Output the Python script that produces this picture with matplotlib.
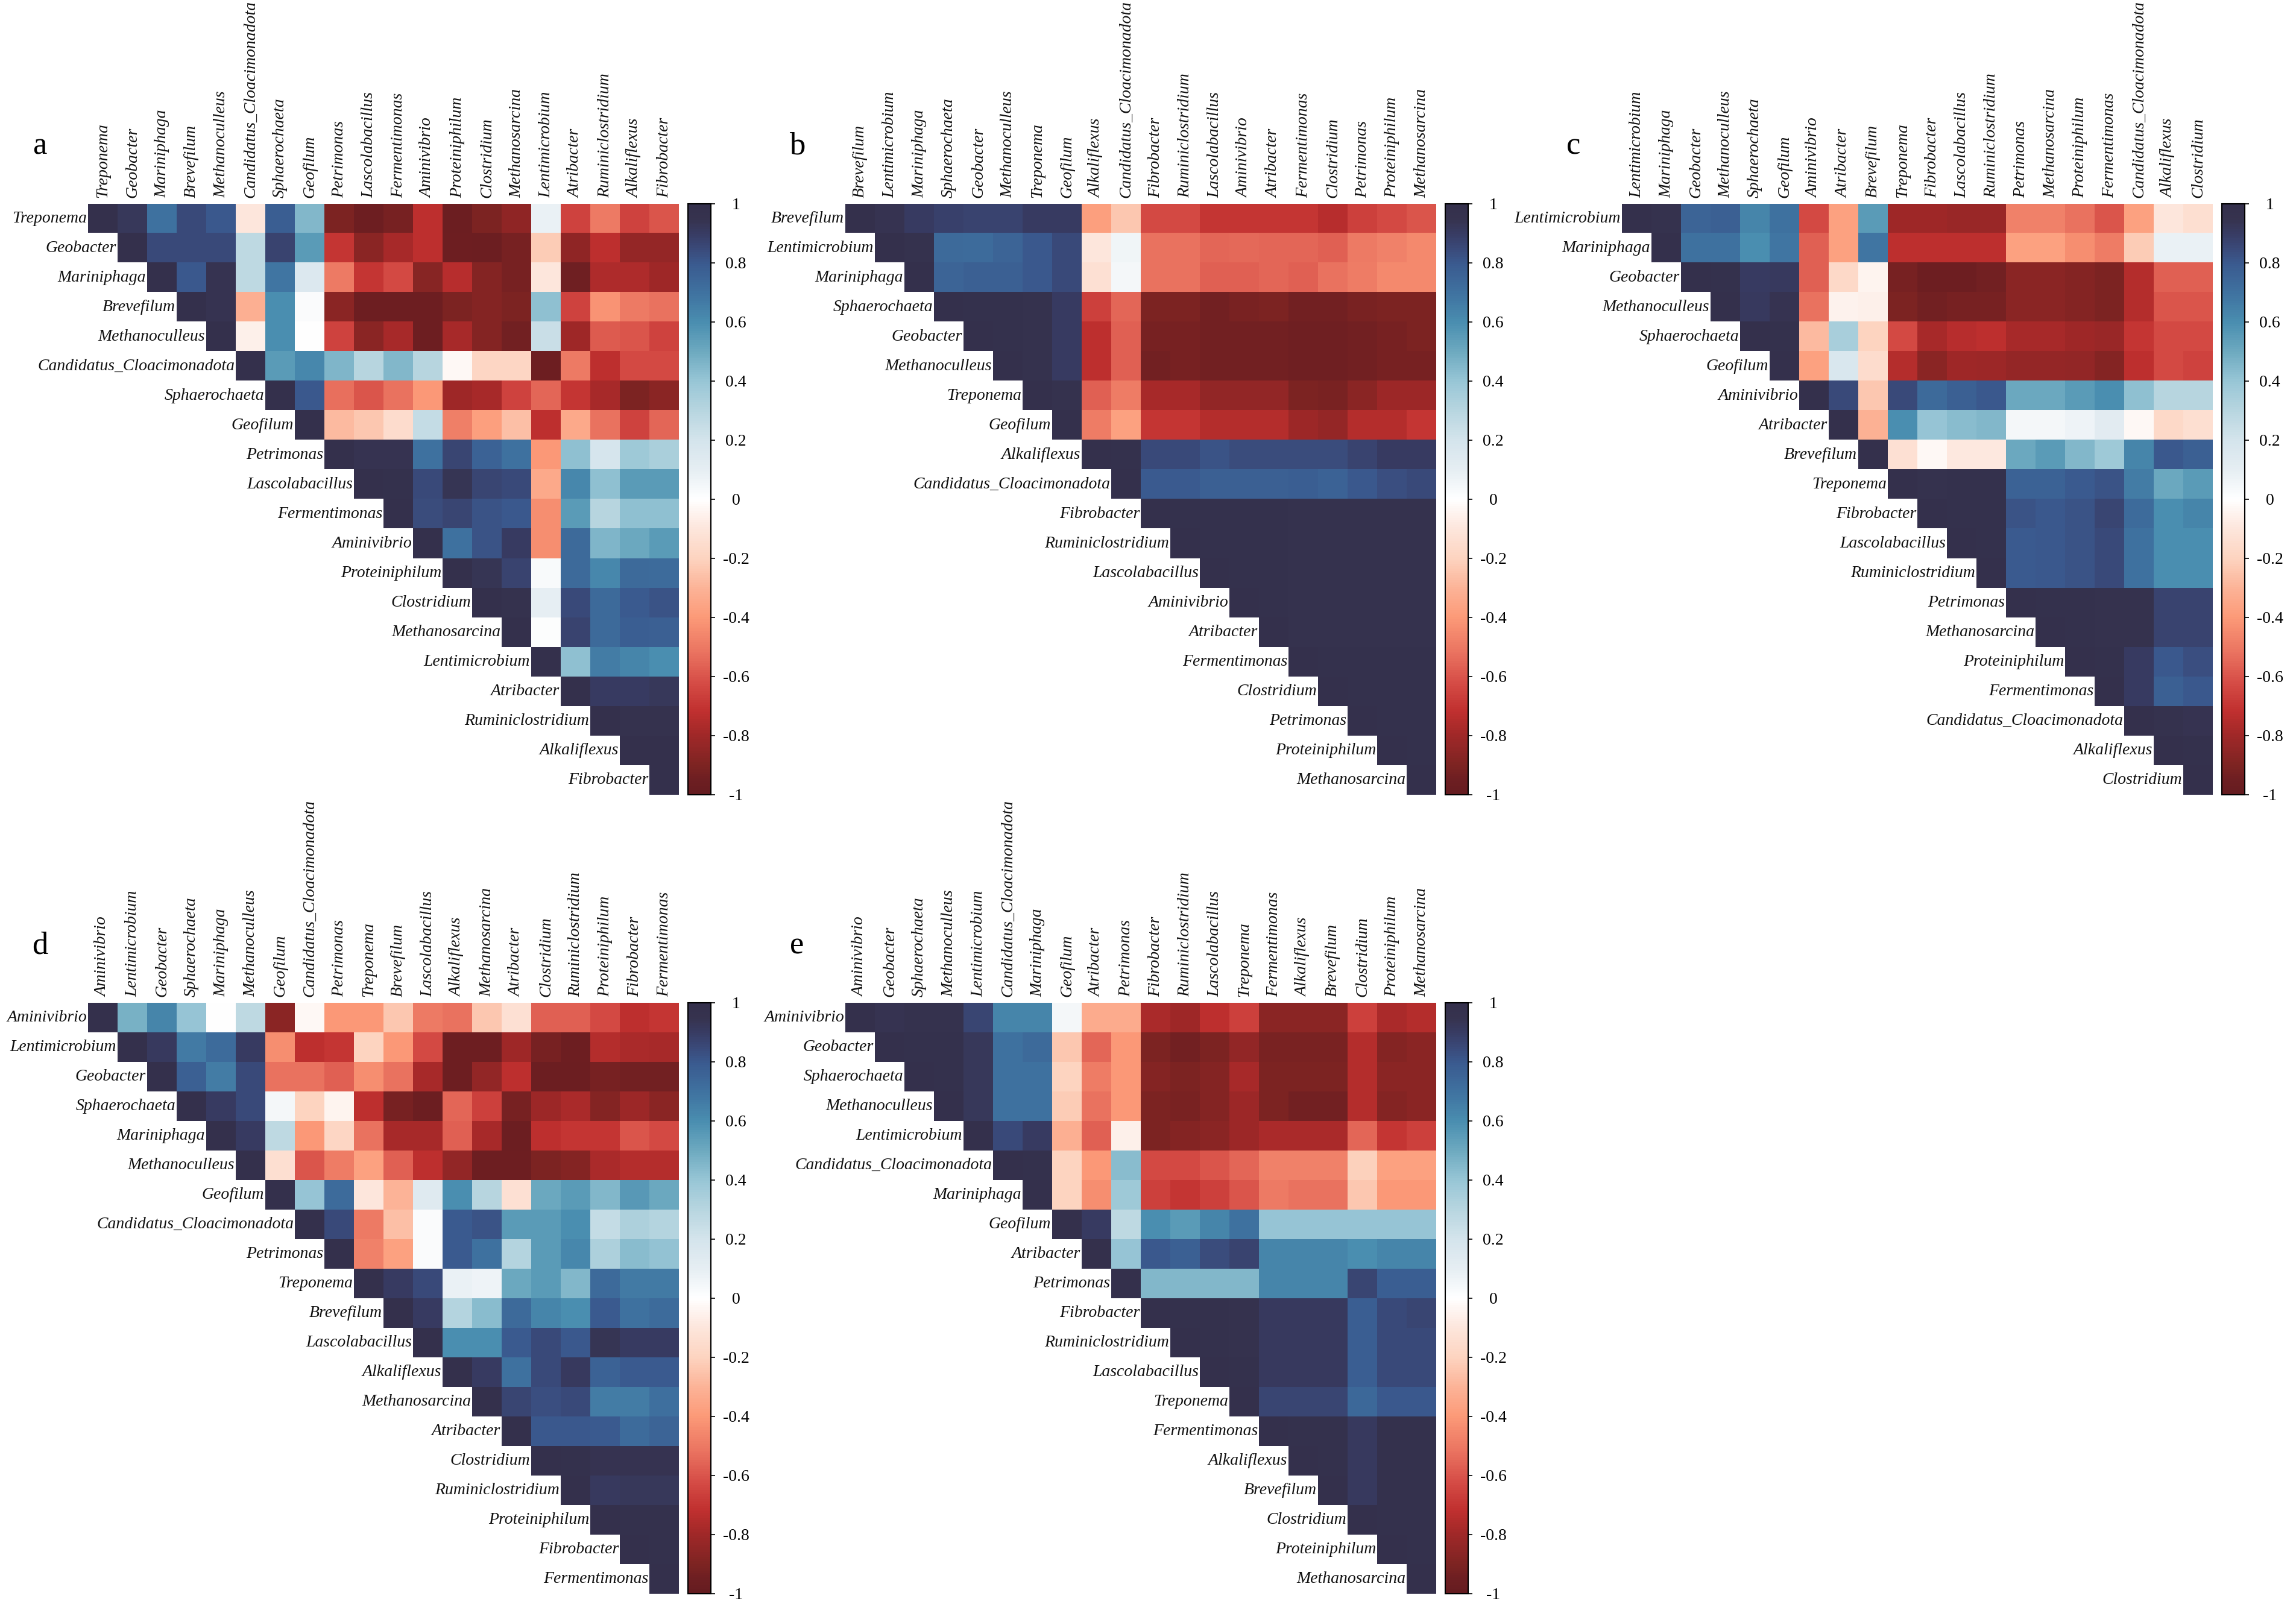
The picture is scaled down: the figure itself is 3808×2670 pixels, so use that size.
import numpy as np
import matplotlib.pyplot as plt
from matplotlib.colors import LinearSegmentedColormap

# genus order of each panel (same order for rows and columns)
genus_a = ['Treponema', 'Geobacter', 'Mariniphaga', 'Brevefilum', 'Methanoculleus',
           'Candidatus_Cloacimonadota', 'Sphaerochaeta', 'Geofilum', 'Petrimonas',
           'Lascolabacillus', 'Fermentimonas', 'Aminivibrio', 'Proteiniphilum',
           'Clostridium', 'Methanosarcina', 'Lentimicrobium', 'Atribacter',
           'Ruminiclostridium', 'Alkaliflexus', 'Fibrobacter']
genus_b = ['Brevefilum', 'Lentimicrobium', 'Mariniphaga', 'Sphaerochaeta', 'Geobacter',
           'Methanoculleus', 'Treponema', 'Geofilum', 'Alkaliflexus',
           'Candidatus_Cloacimonadota', 'Fibrobacter', 'Ruminiclostridium',
           'Lascolabacillus', 'Aminivibrio', 'Atribacter', 'Fermentimonas',
           'Clostridium', 'Petrimonas', 'Proteiniphilum', 'Methanosarcina']
genus_c = ['Lentimicrobium', 'Mariniphaga', 'Geobacter', 'Methanoculleus', 'Sphaerochaeta',
           'Geofilum', 'Aminivibrio', 'Atribacter', 'Brevefilum', 'Treponema',
           'Fibrobacter', 'Lascolabacillus', 'Ruminiclostridium', 'Petrimonas',
           'Methanosarcina', 'Proteiniphilum', 'Fermentimonas',
           'Candidatus_Cloacimonadota', 'Alkaliflexus', 'Clostridium']
genus_d = ['Aminivibrio', 'Lentimicrobium', 'Geobacter', 'Sphaerochaeta', 'Mariniphaga',
           'Methanoculleus', 'Geofilum', 'Candidatus_Cloacimonadota', 'Petrimonas',
           'Treponema', 'Brevefilum', 'Lascolabacillus', 'Alkaliflexus',
           'Methanosarcina', 'Atribacter', 'Clostridium', 'Ruminiclostridium',
           'Proteiniphilum', 'Fibrobacter', 'Fermentimonas']
genus_e = ['Aminivibrio', 'Geobacter', 'Sphaerochaeta', 'Methanoculleus', 'Lentimicrobium',
           'Candidatus_Cloacimonadota', 'Mariniphaga', 'Geofilum', 'Atribacter',
           'Petrimonas', 'Fibrobacter', 'Ruminiclostridium', 'Lascolabacillus',
           'Treponema', 'Fermentimonas', 'Alkaliflexus', 'Brevefilum', 'Clostridium',
           'Proteiniphilum', 'Methanosarcina']

# upper triangle of each correlation matrix, row i starts at the diagonal
corr_a = [
    [1, .92, .70, .85, .80, -.10, .78, .45, -.90, -.95, -.92, -.72, -.96, -.90, -.85, .08, -.65, -.50, -.65, -.60],
    [1, .85, .85, .85, .28, .87, .55, -.70, -.86, -.78, -.72, -.95, -.96, -.92, -.22, -.85, -.72, -.83, -.83],
    [1, .80, .94, .28, .68, .15, -.50, -.70, -.63, -.87, -.74, -.88, -.92, -.10, -.94, -.76, -.76, -.80],
    [1, .94, -.32, .60, .02, -.86, -.95, -.95, -.95, -.90, -.88, -.90, .42, -.65, -.42, -.50, -.52],
    [1, -.06, .60, 0, -.65, -.86, -.78, -.95, -.78, -.88, -.93, .24, -.80, -.58, -.60, -.65],
    [1, .55, .62, .46, .30, .45, .30, -.03, -.18, -.18, -.95, -.50, -.72, -.63, -.63],
    [1, .80, -.53, -.60, -.52, -.40, -.80, -.78, -.65, -.55, -.70, -.78, -.90, -.86],
    [1, -.28, -.24, -.15, .25, -.48, -.38, -.26, -.72, -.34, -.52, -.65, -.55],
    [1, .94, .94, .70, .86, .76, .70, -.40, .42, .18, .38, .34],
    [1, .97, .85, .93, .86, .85, -.34, .62, .42, .55, .55],
    [1, .84, .86, .82, .80, -.43, .55, .30, .42, .42],
    [1, .70, .82, .90, -.43, .73, .46, .50, .55],
    [1, .93, .87, .03, .73, .62, .73, .72],
    [1, .96, .10, .85, .73, .79, .82],
    [1, .01, .87, .73, .78, .77],
    [1, .42, .66, .63, .60],
    [1, .90, .90, .92],
    [1, .95, .95],
    [1, .98],
    [1],
]
corr_b = [
    [1, .94, .90, .88, .87, .87, .90, .90, -.38, -.24, -.63, -.63, -.70, -.70, -.70, -.70, -.74, -.66, -.63, -.60],
    [1, .95, .73, .72, .75, .80, .85, -.10, .06, -.52, -.52, -.55, -.54, -.55, -.55, -.57, -.50, -.47, -.45],
    [1, .75, .77, .77, .80, .85, -.13, .04, -.52, -.52, -.57, -.57, -.55, -.57, -.52, -.49, -.45, -.45],
    [1, .97, .97, .95, .90, -.66, -.55, -.90, -.90, -.93, -.91, -.90, -.93, -.93, -.91, -.90, -.90],
    [1, .97, .96, .90, -.72, -.57, -.92, -.92, -.93, -.93, -.93, -.94, -.94, -.93, -.92, -.90],
    [1, .96, .90, -.72, -.57, -.93, -.92, -.93, -.93, -.93, -.94, -.94, -.93, -.92, -.92],
    [1, .95, -.57, -.49, -.78, -.78, -.84, -.84, -.84, -.90, -.91, -.86, -.81, -.81],
    [1, -.49, -.37, -.70, -.70, -.75, -.75, -.75, -.81, -.83, -.75, -.75, -.70],
    [1, .97, .85, .85, .82, .84, .84, .84, .84, .87, .90, .90],
    [1, .79, .79, .77, .77, .77, .78, .76, .80, .83, .85],
    [1, .97, .97, .97, .97, .95, .95, .95, .95, .95],
    [1, .97, .97, .97, .95, .95, .95, .95, .95],
    [1, .97, .97, .96, .96, .96, .95, .95],
    [1, .97, .96, .96, .96, .95, .95],
    [1, .96, .96, .96, .95, .95],
    [1, .97, .97, .97, .97],
    [1, .97, .97, .97],
    [1, .97, .97],
    [1, .97],
    [1],
]
corr_c = [
    [1, .95, .75, .77, .63, .70, -.63, -.37, .55, -.80, -.80, -.82, -.82, -.47, -.47, -.52, -.60, -.37, -.10, -.14],
    [1, .70, .70, .60, .68, -.57, -.37, .68, -.72, -.72, -.72, -.72, -.37, -.37, -.43, -.49, -.22, .08, .08],
    [1, .97, .90, .91, -.57, -.17, -.04, -.92, -.95, -.95, -.93, -.86, -.86, -.88, -.90, -.75, -.57, -.57],
    [1, .91, .94, -.52, -.05, -.06, -.90, -.93, -.92, -.92, -.86, -.86, -.88, -.90, -.75, -.60, -.60],
    [1, .97, -.28, .35, -.20, -.63, -.78, -.74, -.72, -.78, -.78, -.80, -.82, -.70, -.63, -.63],
    [1, -.37, .17, -.15, -.75, -.86, -.80, -.81, -.83, -.83, -.84, -.88, -.72, -.63, -.65],
    [1, .85, -.24, .85, .73, .77, .80, .50, .50, .55, .60, .42, .30, .30],
    [1, -.31, .60, .40, .43, .45, .04, .04, .07, .12, -.03, -.17, -.14],
    [1, -.13, -.03, -.09, -.09, .50, .55, .45, .38, .63, .80, .77],
    [1, .95, .97, .97, .76, .76, .79, .82, .66, .50, .55],
    [1, .97, .97, .82, .80, .82, .86, .72, .60, .63],
    [1, .97, .79, .80, .82, .85, .70, .60, .60],
    [1, .79, .80, .82, .85, .70, .60, .60],
    [1, .97, .97, .96, .95, .87, .87],
    [1, .97, .96, .95, .87, .87],
    [1, .97, .90, .80, .83],
    [1, .90, .77, .80],
    [1, .95, .94],
    [1, .97],
    [1],
]
corr_d = [
    [1, .47, .63, .40, 0, .28, -.86, -.03, -.40, -.40, -.24, -.50, -.52, -.24, -.13, -.57, -.57, -.63, -.72, -.70],
    [1, .91, .67, .72, .90, -.43, -.72, -.70, -.20, -.40, -.63, -.95, -.95, -.80, -.92, -.95, -.75, -.77, -.78],
    [1, .77, .66, .85, -.52, -.52, -.57, -.43, -.52, -.78, -.95, -.84, -.72, -.96, -.96, -.92, -.93, -.93],
    [1, .90, .85, .04, -.20, -.04, -.72, -.92, -.96, -.55, -.66, -.92, -.81, -.77, -.88, -.81, -.86],
    [1, .90, .28, -.40, -.18, -.52, -.78, -.78, -.57, -.78, -.96, -.72, -.70, -.70, -.60, -.63],
    [1, -.14, -.60, -.49, -.37, -.57, -.72, -.84, -.95, -.95, -.90, -.88, -.77, -.75, -.75],
    [1, .40, .72, -.10, -.30, .14, .60, .30, -.13, .50, .55, .45, .56, .50],
    [1, .85, -.50, -.26, .02, .79, .82, .55, .55, .60, .25, .33, .31],
    [1, -.47, -.37, .02, .79, .70, .31, .55, .62, .33, .43, .41],
    [1, .90, .85, .08, .07, .50, .55, .45, .73, .67, .67],
    [1, .90, .31, .43, .73, .63, .60, .79, .70, .72],
    [1, .60, .60, .79, .85, .80, .93, .90, .90],
    [1, .90, .70, .85, .91, .76, .79, .79],
    [1, .86, .83, .85, .66, .66, .71],
    [1, .80, .80, .79, .72, .75],
    [1, .97, .94, .94, .94],
    [1, .91, .92, .92],
    [1, .97, .97],
    [1, .97],
    [1],
]
corr_e = [
    [1, .94, .95, .95, .86, .63, .63, .04, -.33, -.33, -.77, -.80, -.72, -.66, -.86, -.86, -.86, -.66, -.77, -.75],
    [1, .97, .97, .92, .70, .73, -.24, -.55, -.40, -.90, -.93, -.90, -.84, -.91, -.91, -.91, -.75, -.88, -.86],
    [1, .97, .92, .70, .70, -.20, -.49, -.40, -.88, -.90, -.88, -.78, -.90, -.90, -.90, -.75, -.86, -.86],
    [1, .92, .70, .70, -.22, -.52, -.40, -.90, -.91, -.88, -.81, -.90, -.93, -.93, -.75, -.88, -.86],
    [1, .85, .90, -.32, -.57, -.06, -.90, -.88, -.86, -.81, -.77, -.77, -.77, -.55, -.70, -.66],
    [1, .97, -.20, -.40, .43, -.63, -.63, -.60, -.55, -.47, -.47, -.47, -.21, -.37, -.37],
    [1, -.20, -.43, .38, -.66, -.70, -.66, -.60, -.50, -.52, -.52, -.24, -.40, -.40],
    [1, .90, .28, .60, .55, .63, .70, .40, .40, .40, .40, .40, .40],
    [1, .40, .80, .77, .84, .87, .63, .63, .63, .60, .63, .63],
    [1, .45, .45, .45, .45, .63, .63, .63, .86, .78, .78],
    [1, .97, .97, .96, .91, .91, .91, .78, .85, .86],
    [1, .97, .95, .91, .91, .91, .78, .85, .85],
    [1, .97, .91, .91, .91, .78, .85, .85],
    [1, .86, .86, .86, .74, .80, .80],
    [1, .97, .97, .91, .97, .97],
    [1, .97, .91, .97, .97],
    [1, .91, .97, .97],
    [1, .97, .97],
    [1, .97],
    [1],
]

# muted red-white-blue palette as in the figure
cmap_stops = [-1, -.95, -.9, -.85, -.8, -.72, -.63, -.52, -.4, -.3, -.2, -.1, 0,
              .1, .2, .3, .4, .5, .6, .7, .8, .85, .9, .95, 1]
cmap_colors = ['#651c20', '#6e1f22', '#7e2422', '#902626', '#a02828', '#c0302f',
               '#d44a44', '#ea7360', '#fc9a78', '#fcb498', '#fdd4c0', '#fde6dc',
               '#ffffff', '#e6eef3', '#d4e4ec', '#b8d6e0', '#98c6d6', '#6eaac0',
               '#4a8eb0', '#3f72a0', '#3a5a8f', '#3a4a7a', '#383c64', '#36334f',
               '#34304c']
corr_cmap = LinearSegmentedColormap.from_list(
    'corr', list(zip([(v + 1) / 2 for v in cmap_stops], cmap_colors)))

W, H = 3808, 2670
CELL = 49
lab = dict(fontfamily='Liberation Serif', style='italic', fontsize=20, color='#111111')


def upper_matrix(rows):
    n = len(rows)
    m = np.full((n, n), np.nan)
    for i, r in enumerate(rows):
        m[i, i:] = r
    return np.ma.masked_invalid(m)


def draw_panel(fig, letter, genus, rows, left, top):
    n = len(genus)
    size = n * CELL
    ax = fig.add_axes([left / W, 1 - (top + size) / H, size / W, size / H])
    im = ax.imshow(upper_matrix(rows), cmap=corr_cmap, vmin=-1, vmax=1,
                   extent=(0, n, n, 0), aspect='auto', interpolation='nearest')
    ax.set_xlim(0, n)
    ax.set_ylim(n, 0)
    ax.axis('off')
    for j, g in enumerate(genus):
        ax.text(j + 0.5, -0.2, g, rotation=90, ha='center', va='bottom', **lab)
        ax.text(j - 0.04, j + 0.5, g, ha='right', va='center', **lab)

    cax = fig.add_axes([(left + 995) / W, 1 - (top + size) / H, 38 / W, size / H])
    ticks = np.round(np.arange(-1, 1.01, 0.2), 1)
    cb = fig.colorbar(im, cax=cax, ticks=ticks)
    cb.ax.set_yticklabels(['0' if t == 0 else '%g' % t for t in ticks])
    cb.ax.tick_params(length=5, width=1.2, direction='out', labelsize=20, pad=25)
    for t in cb.ax.get_yticklabels():
        t.set_ha('center')
        t.set_fontfamily('Liberation Serif')
    cb.outline.set_linewidth(1.5)

    fig.text((left - 80) / W, 1 - (top - 95) / H, letter, fontsize=38,
             fontfamily='Liberation Serif', ha='center', va='center')


fig = plt.figure(figsize=(W / 100, H / 100), dpi=100)
draw_panel(fig, 'a', genus_a, corr_a, 146, 338)
draw_panel(fig, 'b', genus_b, corr_b, 1402, 338)
draw_panel(fig, 'c', genus_c, corr_c, 2690, 338)
draw_panel(fig, 'd', genus_d, corr_d, 146, 1663)
draw_panel(fig, 'e', genus_e, corr_e, 1402, 1663)

plt.savefig('out.png', dpi=100)
